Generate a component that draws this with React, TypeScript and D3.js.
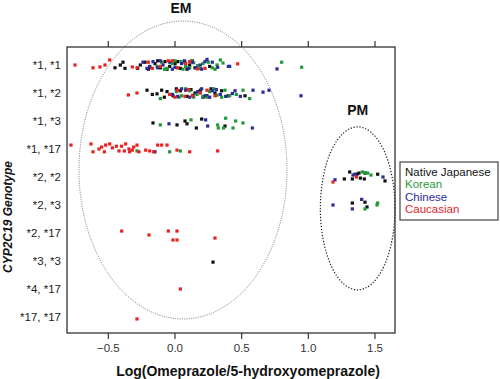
import React from "react";
import * as d3 from "d3";

const genotypes = ["*1, *1", "*1, *2", "*1, *3", "*1, *17", "*2, *2", "*2, *3", "*2, *17", "*3, *3", "*4, *17", "*17, *17"];
const xTicks = [-0.5, 0.0, 0.5, 1.0, 1.5];

type P = [number, number, number]; // [genotype index, log ratio, jitter (rows)]

const nativeJapanese: P[] = [
  [0, -0.45, 0.1], [0, -0.41, 0], [0, -0.39, -0.1], [0, -0.375, 0.12], [0, -0.26, 0], [0, -0.225, -0.1],
  [0, -0.19, 0.08], [0, -0.15, -0.05], [0, -0.11, 0.1], [0, -0.075, -0.12], [0, -0.04, 0.05], [0, 0.0, -0.05],
  [0, 0.04, 0.12], [0, 0.075, -0.1], [0, 0.11, 0.0], [0, 0.15, 0.1], [0, 0.26, 0.05],
  [0, -0.2, 0.15], [0, -0.13, -0.15], [0, -0.06, 0.15], [0, 0.02, -0.12], [0, 0.09, 0.15], [0, 0.13, -0.15], [0, -0.28, 0.12],
  [1, -0.21, -0.1], [1, -0.17, 0.05], [1, -0.135, 0.03], [1, -0.1, -0.1], [1, -0.06, -0.05], [1, -0.015, 0.1],
  [1, 0.04, -0.08], [1, 0.09, 0.12], [1, 0.15, 0], [1, 0.19, -0.1], [1, 0.24, 0.1], [1, 0.3, 0], [1, 0.35, -0.08], [1, 0.525, 0.1],
  [1, -0.08, 0.15], [1, 0.01, -0.15], [1, 0.12, -0.12], [1, 0.21, 0.15], [1, 0.27, -0.15], [1, 0.4, 0.1],
  [2, -0.165, 0.07], [2, 0.015, 0.14], [2, 0.075, 0], [2, 0.09, 0.1], [2, 0.16, 0.25], [2, 0.2, -0.07], [2, 0.375, 0.18],
  [4, 1.27, 0.07], [4, 1.31, -0.18], [4, 1.33, 0.07], [4, 1.365, -0.1], [4, 1.38, -0.14], [4, 1.39, 0.04],
  [4, 1.42, 0.07], [4, 1.425, -0.14], [4, 1.52, -0.1], [4, 1.575, 0.14],
  [5, 1.33, -0.07], [5, 1.425, -0.1], [5, 1.44, 0.07],
  [7, 0.285, 0.04],
];

const korean: P[] = [
  [0, -0.135, 0.05], [0, -0.1, -0.1], [0, -0.06, 0.12], [0, -0.02, -0.05], [0, 0.015, 0.1], [0, 0.045, -0.12],
  [0, 0.08, 0.05], [0, 0.11, 0.1], [0, 0.14, -0.08], [0, 0.17, 0.02], [0, 0.21, -0.05], [0, 0.28, 0.1],
  [0, 0.315, 0.0], [0, 0.34, -0.18], [0, 0.36, -0.07], [0, 0.8, -0.1], [0, 0.95, 0.08],
  [0, -0.08, 0.15], [0, 0.0, -0.15], [0, 0.06, 0.15], [0, 0.125, -0.15], [0, 0.19, 0.12], [0, 0.25, -0.1], [0, 0.3, 0.15],
  [1, -0.11, 0.2], [1, 0.01, -0.05], [1, 0.05, 0.1], [1, 0.11, -0.08], [1, 0.165, 0.05], [1, 0.21, 0.12],
  [1, 0.26, -0.05], [1, 0.315, 0.08], [1, 0.375, -0.1], [1, 0.41, 0.1], [1, 0.51, -0.1], [1, 0.56, 0.2],
  [1, 0.03, 0.15], [1, 0.08, -0.15], [1, 0.14, 0.15], [1, 0.24, 0.15], [1, 0.29, -0.15], [1, 0.35, 0.15], [1, 0.46, 0.05],
  [2, -0.11, 0.14], [2, 0.12, -0.04], [2, 0.32, 0.14], [2, 0.325, 0.25], [2, 0.365, 0.25], [2, 0.38, -0.1],
  [2, 0.435, 0.25], [2, 0.455, 0], [2, 0.51, 0.07],
  [3, -0.285, 0.07], [3, -0.04, 0.1], [3, 0.04, 0.07],
  [4, 1.405, -0.18], [4, 1.43, -0.14], [4, 1.445, -0.14], [4, 1.47, -0.07],
  [5, 1.425, 0.14], [5, 1.515, 0], [5, 1.52, -0.07],
];

const chinese: P[] = [
  [0, -0.24, -0.1], [0, -0.19, 0.05], [0, -0.165, -0.12], [0, -0.13, 0.1], [0, -0.09, 0], [0, -0.04, -0.1],
  [0, 0.0, 0.08], [0, 0.05, -0.05], [0, 0.1, 0.12], [0, 0.13, -0.1], [0, 0.19, 0], [0, 0.225, -0.12],
  [0, 0.24, -0.2], [0, 0.32, 0.08], [0, 0.4, 0.05], [0, 0.41, 0.05], [0, 0.765, 0.14],
  [0, -0.21, 0.12], [0, -0.11, -0.15], [0, -0.02, 0.15], [0, 0.07, -0.15], [0, 0.16, 0.1], [0, 0.2, 0.15], [0, 0.28, -0.1],
  [1, -0.02, 0.05], [1, 0.02, 0.12], [1, 0.08, -0.1], [1, 0.135, 0.08], [1, 0.17, -0.05], [1, 0.225, 0.1],
  [1, 0.28, -0.08], [1, 0.34, 0.05], [1, 0.43, 0.02], [1, 0.49, 0.12], [1, 0.585, -0.1], [1, 0.66, -0.03],
  [1, 0.705, -0.1], [1, 0.945, 0.1],
  [1, 0.05, -0.15], [1, 0.11, 0.15], [1, 0.2, -0.15], [1, 0.26, 0.15], [1, 0.31, -0.12], [1, 0.38, 0.12], [1, 0.45, -0.08],
  [2, -0.045, 0.1], [2, 0.23, -0.04], [2, 0.245, 0.18], [2, 0.58, 0.25],
  [3, -0.15, 0.1],
  [4, 1.2, 0.1], [4, 1.335, -0.07], [4, 1.35, -0.1], [4, 1.56, 0],
  [5, 1.185, 0], [5, 1.33, 0.14], [5, 1.4, -0.2],
];

const caucasian: P[] = [
  [0, -0.75, 0], [0, -0.615, 0.1], [0, -0.563, 0.07], [0, -0.525, 0], [0, -0.49, -0.18], [0, -0.32, 0.07],
  [0, -0.285, 0.1], [0, -0.2, -0.1], [0, -0.11, 0.05], [0, -0.05, -0.15], [0, 0.02, 0.1], [0, 0.08, -0.05],
  [0, 0.17, 0.14], [0, 0.225, 0.12], [0, 0.47, -0.04],
  [0, -0.17, 0.12], [0, -0.02, -0.15], [0, 0.11, -0.12],
  [1, -0.35, 0.07], [1, -0.285, 0], [1, -0.04, 0.05], [1, 0.02, -0.1], [1, 0.075, 0.12], [1, 0.13, 0.1],
  [1, 0.19, 0], [1, 0.3, 0.1], [1, 0.0, 0.15], [1, 0.1, -0.12], [1, 0.24, -0.1],
  [3, -0.78, -0.14], [3, -0.63, -0.18], [3, -0.615, 0.1], [3, -0.57, 0], [3, -0.55, -0.07], [3, -0.53, 0.1],
  [3, -0.52, -0.14], [3, -0.49, -0.18], [3, -0.47, -0.04], [3, -0.44, -0.1], [3, -0.42, 0.07], [3, -0.4, -0.1],
  [3, -0.38, 0.07], [3, -0.37, -0.18], [3, -0.345, 0], [3, -0.34, 0.1], [3, -0.32, 0.04], [3, -0.31, -0.07],
  [3, -0.285, -0.14], [3, -0.27, 0.1], [3, -0.22, 0.04], [3, -0.19, 0.07], [3, -0.16, 0.1], [3, -0.13, -0.14],
  [3, -0.1, -0.14], [3, -0.06, -0.14], [3, 0.015, 0.04], [3, 0.11, 0.1], [3, 0.32, 0.07],
  [4, 1.185, 0.18], [4, 1.36, 0],
  [6, -0.4, -0.07], [6, -0.195, 0.07], [6, -0.05, -0.07], [6, 0.015, -0.07], [6, -0.015, 0.25], [6, 0.015, 0.25], [6, 0.3, 0.18],
  [8, 0.04, 0],
  [9, -0.285, 0.07],
];

const seriesNames = ["Native Japanese", "Korean", "Chinese", "Caucasian"];
const seriesColors = ["#111111", "#1f9a3a", "#2b2b9c", "#e8231f"];
const seriesData = [nativeJapanese, korean, chinese, caucasian];

// ellipses in data units: [cx, cyRow, rx, ryRows]
const emEllipse = [0.06, 3.75, 0.78, 5.32];
const pmEllipse = [1.37, 5.12, 0.28, 2.91];

export default function App() {
  const left = 67, right = 395, top = 47, bottom = 333;
  const x = d3.scaleLinear().domain([-0.81, 1.65]).range([left, right]);
  const y = d3.scalePoint<string>().domain(genotypes).range([65, 317]);
  const step = y.step();
  const rowY = (r: number) => (y(genotypes[0]) as number) + r * step;
  const font = "'Liberation Sans', Arial, sans-serif";
  const fmt = d3.format(".1f");
  const ell = (e: number[]) => ({
    cx: x(e[0]), cy: rowY(e[1]),
    rx: x(e[0] + e[2]) - x(e[0]), ry: e[3] * step,
  });
  const em = ell(emEllipse);
  const pm = ell(pmEllipse);
  return (
    <svg width={500} height={379} style={{ position: "absolute", left: 0, top: 0 }} fontFamily={font}>
      <rect x={0} y={0} width={500} height={379} fill="#fff" />
      <ellipse cx={em.cx} cy={em.cy} rx={em.rx} ry={em.ry} fill="none" stroke="#777" strokeWidth={1} strokeDasharray="1,1.3" />
      <ellipse cx={pm.cx} cy={pm.cy} rx={pm.rx} ry={pm.ry} fill="none" stroke="#222" strokeWidth={1.2} strokeDasharray="1.3,1.7" />
      {seriesData.map((data, si) =>
        data.map((p, i) => (
          <rect key={si + "-" + i} x={x(p[1]) - 1.6} y={rowY(p[0] + p[2]) - 1.6} width={3.2} height={3.2} fill={seriesColors[si]} />
        ))
      )}
      <rect x={left} y={top} width={right - left} height={bottom - top} fill="none" stroke="#333" strokeWidth={1.3} />
      {xTicks.map((t) => (
        <g key={t}>
          <line x1={x(t)} x2={x(t)} y1={top} y2={top - 6} stroke="#333" strokeWidth={1.2} />
          <line x1={x(t)} x2={x(t)} y1={bottom} y2={bottom + 6} stroke="#333" strokeWidth={1.2} />
          <text x={x(t)} y={352} textAnchor="middle" fontSize={11.5} fill="#333">{fmt(t)}</text>
        </g>
      ))}
      {genotypes.map((g) => (
        <text key={g} x={61} y={(y(g) as number) + 4} textAnchor="end" fontSize={11.5} fill="#222">{g}</text>
      ))}
      <text x={248} y={376} textAnchor="middle" fontSize={14} fontWeight="bold" fill="#111">Log(Omeprazole/5-hydroxyomeprazole)</text>
      <text transform="translate(12,217) rotate(-90)" textAnchor="middle" fontSize={12} fontWeight="bold" fontStyle="italic" fill="#111">CYP2C19 Genotype</text>
      <text x={em.cx - 2} y={13} textAnchor="middle" fontSize={14} fontWeight="bold" fill="#111">EM</text>
      <text x={pm.cx} y={115} textAnchor="middle" fontSize={14} fontWeight="bold" fill="#111">PM</text>
      <rect x={400} y={162} width={98} height={58} fill="#fff" stroke="#444" strokeWidth={1.2} />
      {seriesNames.map((n, i) => (
        <text key={n} x={405} y={176 + i * 12.4} fontSize={11.5} fill={seriesColors[i]}>{n}</text>
      ))}
    </svg>
  );
}
